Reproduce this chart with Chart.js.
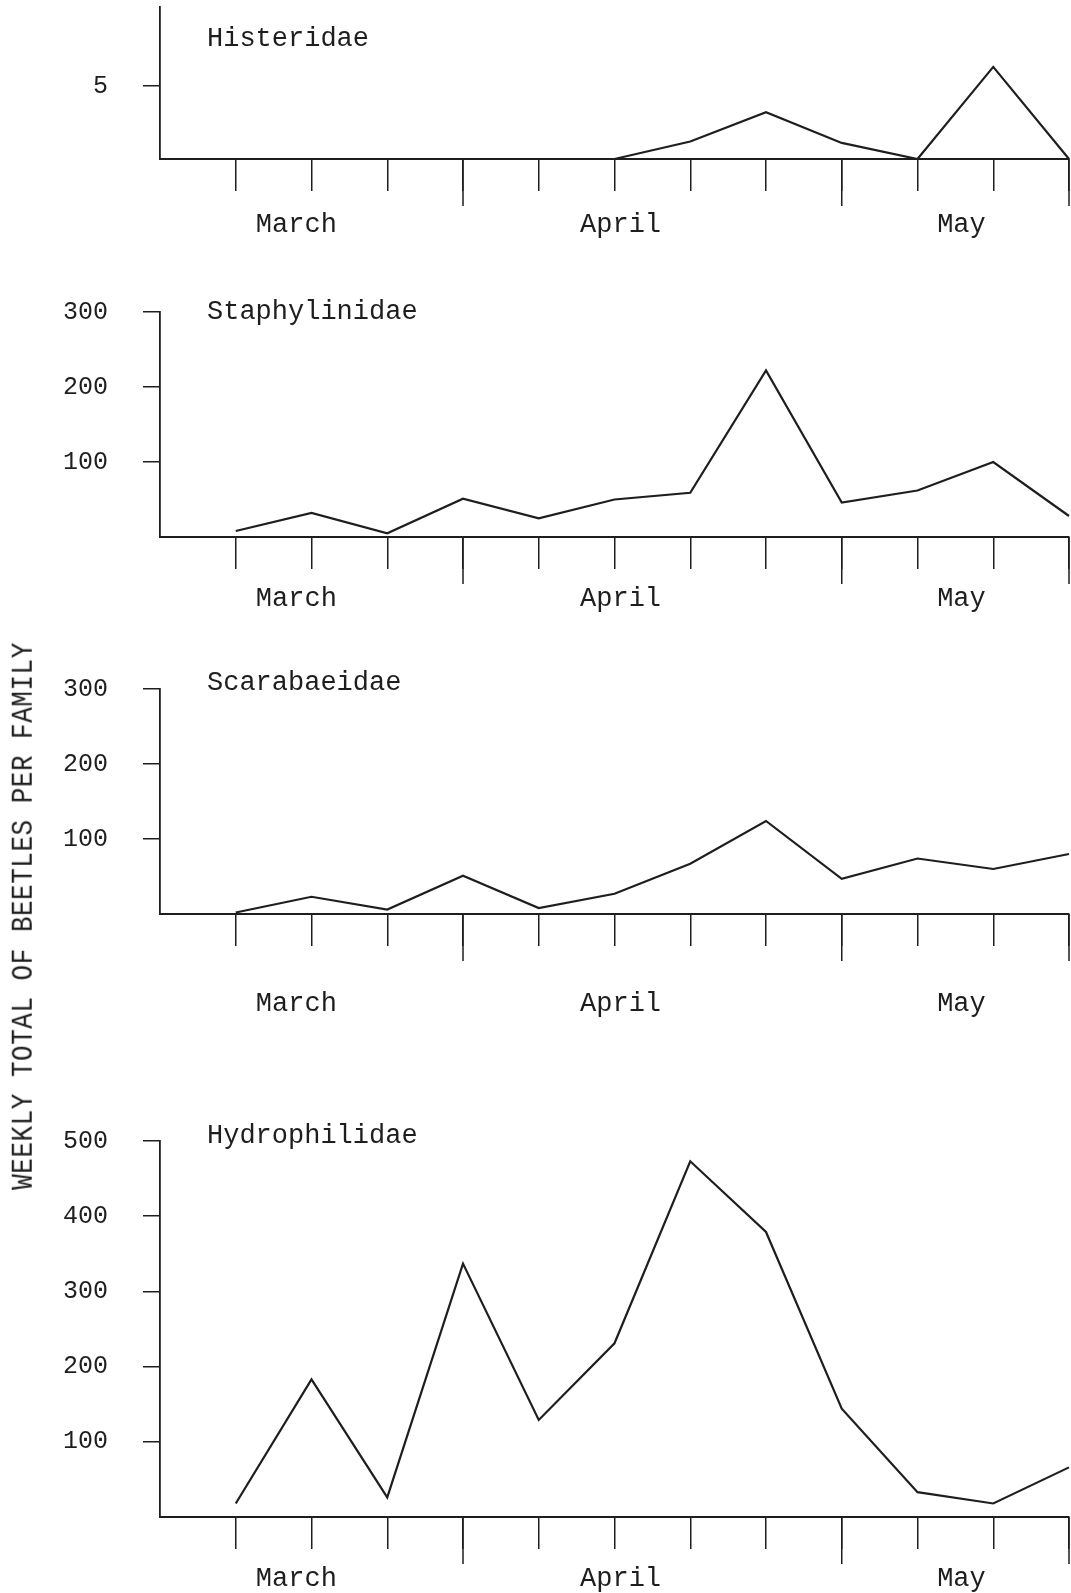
<!DOCTYPE html>
<html>
<head>
<meta charset="utf-8">
<script src="https://cdn.jsdelivr.net/npm/chart.js@4.4.1/dist/chart.umd.min.js"></script>
<style>
  body { margin: 0; background: #fff; }
  #page { position: relative; width: 1071px; height: 1593px; background: #fff; }
  .panel { position: absolute; left: 0; }
  #ytitle {
    position: absolute; left: 24px; top: 916px;
    transform: translate(-50%, -50%) rotate(-90deg) scaleY(1.15);
    font: 26px "Liberation Mono", monospace; color: #1e1e1e;
    white-space: nowrap; letter-spacing: 0.5px;
  }
</style>
</head>
<body>
<div id="page">
  <canvas id="hist" class="panel" width="1071" height="260" style="top:0px"></canvas>
  <canvas id="staph" class="panel" width="1071" height="380" style="top:260px"></canvas>
  <canvas id="scarab" class="panel" width="1071" height="420" style="top:640px"></canvas>
  <canvas id="hydro" class="panel" width="1071" height="533" style="top:1060px"></canvas>
  <div id="ytitle">WEEKLY TOTAL OF BEETLES PER FAMILY</div>
</div>
<script>
// weekly samples, March to May
const weeks = [1, 2, 3, 4, 5, 6, 7, 8, 9, 10, 11, 12];
const longWeeks = [4, 9, 12];
const monthNames = ['March', 'April', 'May'];
const monthPos = [1.8, 6.08, 10.58];

const histeridae = [0, 0, 0, 0, 0, 0, 1.2, 3.2, 1.1, 0, 6.3, 0];
const staphylinidae = [8, 32, 5, 51, 25, 50, 59, 222, 46, 62, 100, 28];
const scarabaeidae = [2, 23, 6, 51, 8, 27, 67, 124, 47, 74, 60, 80];
const hydrophilidae = [18, 183, 26, 337, 129, 231, 473, 379, 144, 33, 18, 66];

const histTicks = [5];
const staphTicks = [100, 200, 300];
const scarabTicks = [100, 200, 300];
const hydroTicks = [100, 200, 300, 400, 500];

const INK = '#1e1e1e';
const FONT = '"Liberation Mono", monospace';

// family name inside the plot and the longer month ticks
const panelDecor = {
  id: 'panelDecor',
  afterDraw(chart, args, opts) {
    const { ctx, chartArea, scales } = chart;
    ctx.save();
    ctx.strokeStyle = INK;
    ctx.lineWidth = 1.5;
    longWeeks.forEach(w => {
      const x = scales.x.getPixelForValue(w);
      ctx.beginPath();
      ctx.moveTo(x, chartArea.bottom);
      ctx.lineTo(x, chartArea.bottom + 47);
      ctx.stroke();
    });
    ctx.fillStyle = INK;
    ctx.font = '27px ' + FONT;
    ctx.textBaseline = 'middle';
    ctx.fillText(opts.text, chartArea.left + 47, chartArea.top + opts.dy);
    ctx.restore();
  }
};

function noPad(s) {
  s.paddingTop = 0; s.paddingBottom = 0; s.paddingLeft = 0; s.paddingRight = 0;
}

function makePanel(id, p) {
  new Chart(document.getElementById(id), {
    type: 'line',
    data: {
      datasets: [{
        label: p.name,
        data: weeks.map((w, i) => ({ x: w, y: p.values[i] })),
        borderColor: INK,
        borderWidth: 2.2,
        pointRadius: 0,
        tension: 0,
        clip: false
      }]
    },
    options: {
      responsive: false,
      animation: false,
      layout: { padding: { top: p.top, left: 0, right: 2, bottom: 0 } },
      plugins: {
        legend: { display: false },
        tooltip: { enabled: false },
        panelDecor: { text: p.name, dy: p.dy }
      },
      scales: {
        x: {
          type: 'linear', min: 0, max: 12, weight: 0,
          afterBuildTicks: s => { s.ticks = weeks.map(v => ({ value: v })); },
          afterFit: s => { s.height = 32; noPad(s); },
          ticks: { display: false },
          grid: { drawOnChartArea: false, drawTicks: true, tickLength: 32, color: INK, lineWidth: 1.5 },
          border: { display: true, color: INK, width: 2 }
        },
        months: {
          type: 'linear', axis: 'x', position: 'bottom', min: 0, max: 12, weight: 1,
          afterBuildTicks: s => { s.ticks = monthPos.map(v => ({ value: v })); },
          afterFit: s => { s.height = p.monthH; noPad(s); },
          ticks: {
            autoSkip: false, maxRotation: 0, minRotation: 0,
            padding: p.monthPad, color: INK, font: { family: FONT, size: 27 },
            callback: (v, i) => monthNames[i]
          },
          grid: { display: false },
          border: { display: false }
        },
        y: {
          type: 'linear', min: 0, max: p.max,
          afterBuildTicks: s => { s.ticks = p.ticks.map(v => ({ value: v })); },
          afterFit: s => { s.width = 160; noPad(s); },
          ticks: { padding: 35, color: INK, font: { family: FONT, size: 25 } },
          grid: { drawOnChartArea: false, drawTicks: true, tickLength: 17, color: INK, lineWidth: 1.5 },
          border: { display: true, color: INK, width: 1.8 }
        }
      }
    },
    plugins: [panelDecor]
  });
}

makePanel('hist', { name: 'Histeridae', values: histeridae, ticks: histTicks, max: 10.4,
  top: 7, monthH: 69, monthPad: 10, dy: 32 });
makePanel('staph', { name: 'Staphylinidae', values: staphylinidae, ticks: staphTicks, max: 300,
  top: 52, monthH: 71, monthPad: 6, dy: 0 });
makePanel('scarab', { name: 'Scarabaeidae', values: scarabaeidae, ticks: scarabTicks, max: 300,
  top: 49, monthH: 114, monthPad: 34, dy: -6 });
makePanel('hydro', { name: 'Hydrophilidae', values: hydrophilidae, ticks: hydroTicks, max: 500,
  top: 81, monthH: 44, monthPad: 6, dy: -5 });
</script>
</body>
</html>
